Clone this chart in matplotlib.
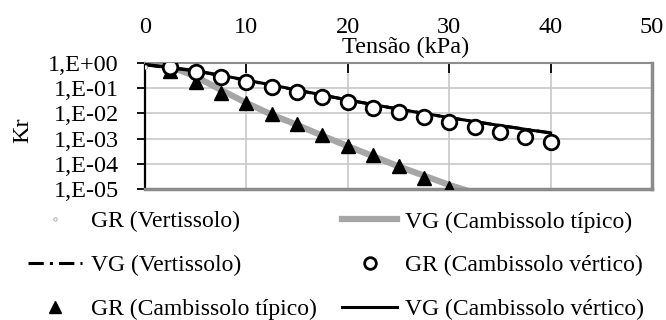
import matplotlib
matplotlib.use("Agg")
import matplotlib.pyplot as plt
import numpy as np
from matplotlib.ticker import FixedLocator, FixedFormatter, NullLocator

plt.rcParams['font.family'] = ['Liberation Serif', 'DejaVu Serif']

# ---- data ----
x_gr_vert = [0.0]
kr_gr_vert = [0.72]

x_vg = [0, 5, 10, 15, 20, 25, 30, 35, 40]
kr_vg_vert = [0.85, 0.48, 0.205, 0.083, 0.034, 0.0148, 0.0068, 0.0033, 0.0017]
kr_vg_cv = [0.88, 0.5, 0.21, 0.085, 0.034, 0.0148, 0.0068, 0.0033, 0.00166]

x_gr_ct = [2.5, 5, 7.5, 10, 12.5, 15, 17.5, 20, 22.5, 25, 27.5, 30]
kr_gr_ct = [0.48, 0.18, 0.063, 0.026, 0.0095, 0.0037, 0.0014, 0.00052, 0.00022, 8.3e-5, 2.8e-5, 1.1e-5]

x_vg_ct = [0, 2.5, 5, 7.5, 10, 12.5, 15, 17.5, 20, 22.5, 25, 27.5, 30, 32.5, 35]
kr_vg_ct = [1.0, 0.72, 0.29, 0.085, 0.026, 0.0089, 0.0035, 0.0013, 0.0005, 0.0002, 7.9e-5, 3.4e-5, 1.45e-5, 7e-6, 3.2e-6]

x_gr_cv = [2.5, 5, 7.5, 10, 12.5, 15, 17.5, 20, 22.5, 25, 27.5, 30, 32.5, 35, 37.5, 40]
kr_gr_cv = [0.7, 0.44, 0.27, 0.17, 0.11, 0.069, 0.045, 0.028, 0.017, 0.011, 0.0074, 0.0046, 0.003, 0.0018, 0.0012, 0.00075]

xticks = [0, 10, 20, 30, 40, 50]
yticks = [1, 1e-1, 1e-2, 1e-3, 1e-4, 1e-5]
ytick_labels = ['1,E+00', '1,E-01', '1,E-02', '1,E-03', '1,E-04', '1,E-05']

FS = 17.5

fig = plt.figure(figsize=(6.66, 3.2), dpi=100)
ax = fig.add_axes([145/666, 1-189/320, (652-145)/666, (189-63)/320])

l1, = ax.plot(x_gr_vert, kr_gr_vert, linestyle='none', marker='o', markersize=3,
              markerfacecolor='white', markeredgecolor='#a0a0a0', markeredgewidth=0.6, zorder=6,
              label='GR (Vertissolo)')
l4, = ax.plot(x_vg_ct, kr_vg_ct, color='#a6a6a6', linewidth=4.5, zorder=2,
              label='VG (Cambissolo típico)')
l2, = ax.plot(x_vg, kr_vg_vert, color='black', linewidth=2.2, linestyle=(0, (5, 2, 1, 2)), zorder=3,
              label='VG (Vertissolo)')
l3, = ax.plot(x_gr_ct, kr_gr_ct, linestyle='none', marker='^', markersize=10,
              color='black', zorder=4, label='GR (Cambissolo típico)')
l6, = ax.plot(x_vg, kr_vg_cv, color='black', linewidth=2.2, zorder=3,
              label='VG (Cambissolo vértico)')
l5, = ax.plot(x_gr_cv, kr_gr_cv, linestyle='none', marker='o', markersize=10.5,
              markerfacecolor='white', markeredgecolor='black', markeredgewidth=2, zorder=5,
              label='GR (Cambissolo vértico)')

ax.set_yscale('log')
ax.set_xlim(0, 50)
ax.set_ylim(1e-5, 1)
ax.yaxis.set_major_locator(FixedLocator(yticks))
ax.yaxis.set_major_formatter(FixedFormatter(ytick_labels))
ax.yaxis.set_minor_locator(NullLocator())
ax.set_xticks(xticks)
ax.xaxis.tick_top()
ax.tick_params(axis='x', direction='in', length=7, width=1.3, pad=18, labelsize=FS, colors='black')
ax.tick_params(axis='y', direction='out', length=6, width=1.3, pad=13, labelsize=FS)

ax.grid(True, color='#c8c8c8', linewidth=1.2)
ax.set_axisbelow(True)

ax.spines['left'].set_color('black')
ax.spines['left'].set_linewidth(1.6)
for s in ['top', 'right', 'bottom']:
    ax.spines[s].set_color('#8c8c8c')
ax.spines['top'].set_linewidth(1.5)
ax.spines['right'].set_linewidth(2.5)
ax.spines['bottom'].set_linewidth(2.5)

fig.text(406/666, 1-47/320, 'Tensão (kPa)', ha='center', va='center', fontsize=FS)
fig.text(23/666, 1-130/320, 'Kr', ha='center', va='center', rotation=90, fontsize=FS)

handles = [l1, l2, l3, l4, l5, l6]
leg = fig.legend(handles=handles, labels=[h.get_label() for h in handles], ncol=2,
                 loc='upper left', bbox_to_anchor=(28/666, 1-211/320), frameon=False,
                 fontsize=17, handlelength=2.3, handletextpad=0.35, columnspacing=1.1,
                 labelspacing=0.95, borderpad=0, borderaxespad=0, markerscale=0.8)

fig.savefig('out.png', dpi=100)
